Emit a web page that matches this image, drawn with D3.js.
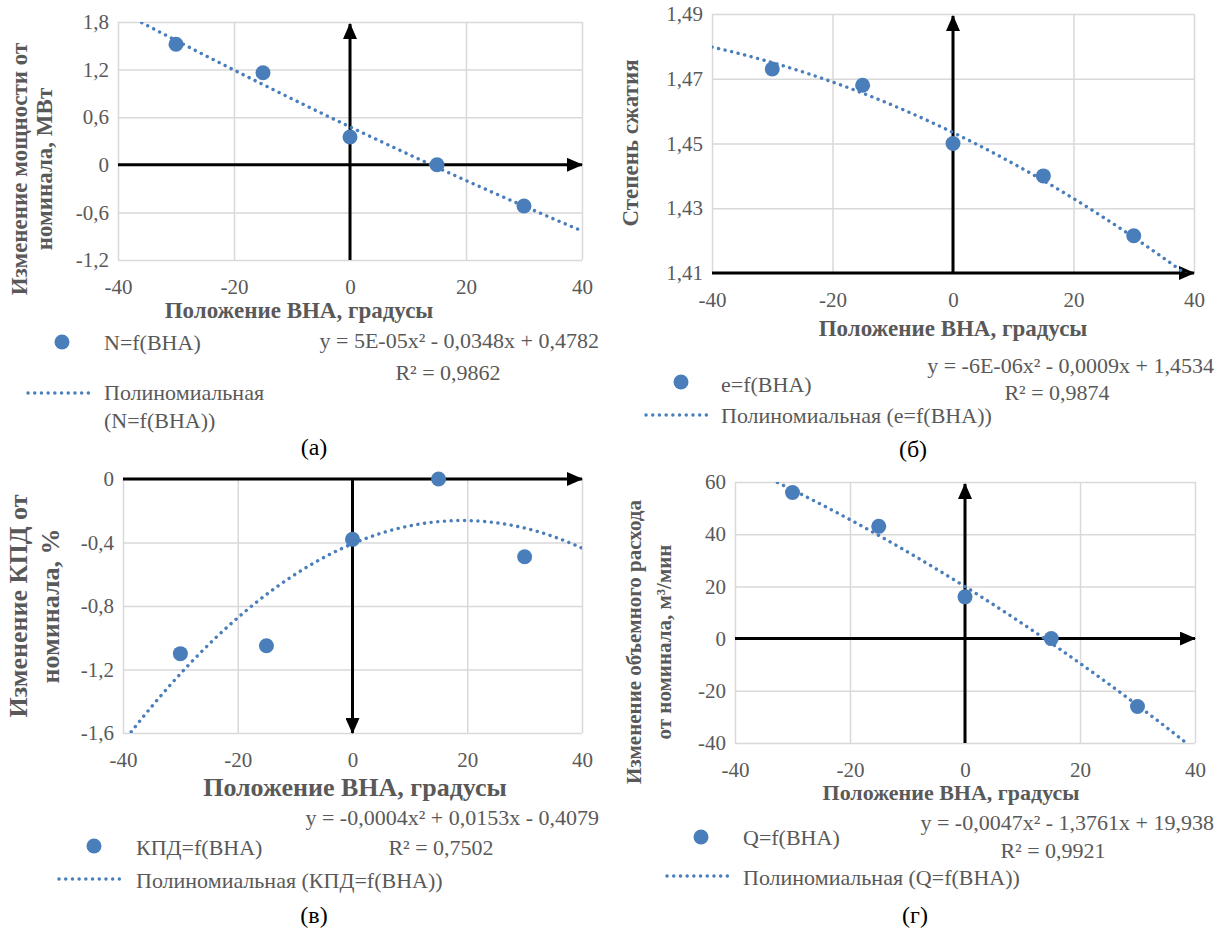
<!DOCTYPE html>
<html lang="ru">
<head>
<meta charset="UTF-8">
<title>Положение ВНА</title>
<script src="https://cdn.jsdelivr.net/npm/d3@7"></script>
<style>
  body { margin: 0; background: #fff; }
</style>
</head>
<body>
<svg width="1223" height="930"></svg>
<script>
// ---- data ----
var vnaAngles = [-30, -15, 0, 15, 30];
var powerValues = [1.52, 1.16, 0.35, 0.0, -0.52];         // (а) N, МВт
var pressureValues = [1.473, 1.468, 1.450, 1.440, 1.4215]; // (б) e
var efficiencyValues = [-1.10, -1.05, -0.38, 0.0, -0.49];  // (в) КПД, %
var flowValues = [56, 43, 16, 0, -26];                     // (г) Q, м3/мин

// polynomial trendline coefficients [a2, a1, a0] as printed on the chart
var powerFit = [5e-5, -0.0348, 0.4782];
var pressureFit = [-6e-6, -0.0009, 1.4534];
var efficiencyFit = [-0.0004, 0.0153, -0.4079];
var flowFit = [-0.0047, -1.3761, 19.938];

var xTicks = [-40, -20, 0, 20, 40];
var powerTicks = [-1.2, -0.6, 0, 0.6, 1.2, 1.8];
var pressureTicks = [1.41, 1.43, 1.45, 1.47, 1.49];
var efficiencyTicks = [-1.6, -1.2, -0.8, -0.4, 0];
var flowTicks = [-40, -20, 0, 20, 40, 60];

var FONT = "'Liberation Serif', 'DejaVu Serif', 'Noto Serif', Tinos, serif";

var ru = d3.formatLocale({ decimal: ",", thousands: " ", grouping: [3], currency: ["", ""], minus: "-" });
var f1 = ru.format(".1f"), f2 = ru.format(".2f"), f0 = ru.format("d");
function zeroPlain(fmt) { return function (d) { return d === 0 ? "0" : fmt(d); }; }

var panels = [
  {
    left: 118, right: 582, top: 22, bottom: 260,
    yTicks: powerTicks, yFormat: zeroPlain(f1), values: powerValues, fit: powerFit,
    hAt: 0, vDir: "up",
    yTitle: ["Изменение мощности от", "номинала, МВт"], yTitleX: [19, 44], yTitleY: 169, yTitleSize: 23,
    xTitleX: 299, xTitleY: 318, xTitleSize: 23,
    series: "N=f(ВНА)", trendName: ["Полиномиальная", "(N=f(ВНА))"],
    markerPos: [62, 342], seriesTextPos: [104, 350],
    lineX: [28, 94], lineY: 393, trendTextPos: [104, 400], lineGap: 28,
    eq: "y = 5E-05x² - 0,0348x + 0,4782", eqRight: 599, eqY: 348,
    r2: "R² = 0,9862", r2X: 448, r2Y: 380,
    caption: "(а)", captionX: 314, captionY: 455
  },
  {
    left: 712, right: 1194, top: 14, bottom: 273,
    yTicks: pressureTicks, yFormat: f2, values: pressureValues, fit: pressureFit,
    hAt: 1.41, vDir: "up",
    yTitle: ["Степень сжатия"], yTitleX: [630], yTitleY: 143, yTitleSize: 23,
    xTitleX: 953, xTitleY: 336, xTitleSize: 23,
    series: "e=f(ВНА)", trendName: ["Полиномиальная (e=f(ВНА))"],
    markerPos: [681, 382], seriesTextPos: [721, 392],
    lineX: [646, 712], lineY: 415, trendTextPos: [721, 423], lineGap: 0,
    eq: "y = -6E-06x² - 0,0009x + 1,4534", eqRight: 1214, eqY: 373,
    r2: "R² = 0,9874", r2X: 1057, r2Y: 400,
    caption: "(б)", captionX: 913, captionY: 457
  },
  {
    left: 123, right: 582, top: 479, bottom: 733,
    yTicks: efficiencyTicks, yFormat: zeroPlain(f1), values: efficiencyValues, fit: efficiencyFit,
    hAt: 0, vDir: "down",
    yTitle: ["Изменение КПД от", "номинала, %"], yTitleX: [18, 50], yTitleY: 606, yTitleSize: 26,
    xTitleX: 355, xTitleY: 796, xTitleSize: 26,
    series: "КПД=f(ВНА)", trendName: ["Полиномиальная (КПД=f(ВНА))"],
    markerPos: [94, 846], seriesTextPos: [136, 855],
    lineX: [59, 124], lineY: 879, trendTextPos: [136, 888], lineGap: 0,
    eq: "y = -0,0004x² + 0,0153x - 0,4079", eqRight: 599, eqY: 825,
    r2: "R² = 0,7502", r2X: 441, r2Y: 855,
    caption: "(в)", captionX: 314, captionY: 923
  },
  {
    left: 735, right: 1195, top: 482, bottom: 743,
    yTicks: flowTicks, yFormat: f0, values: flowValues, fit: flowFit,
    hAt: 0, vDir: "up",
    yTitle: ["Изменение объемного расхода", "от номинала, м³/мин"], yTitleX: [634, 664], yTitleY: 642, yTitleSize: 21,
    xTitleX: 951, xTitleY: 800, xTitleSize: 22,
    series: "Q=f(ВНА)", trendName: ["Полиномиальная (Q=f(ВНА))"],
    markerPos: [701, 837], seriesTextPos: [743, 845],
    lineX: [667, 733], lineY: 876, trendTextPos: [743, 885], lineGap: 0,
    eq: "y = -0,0047x² - 1,3761x + 19,938", eqRight: 1214, eqY: 830,
    r2: "R² = 0,9921", r2X: 1053, r2Y: 858,
    caption: "(г)", captionX: 915, captionY: 923
  }
];

var svg = d3.select("svg").attr("font-family", FONT);
var blue = "#4a7ebb", grey = "#595959", gridCol = "#d9d9d9";

var defs = svg.append("defs");
defs.append("marker")
  .attr("id", "arrow")
  .attr("markerUnits", "userSpaceOnUse")
  .attr("viewBox", "0 0 16 14")
  .attr("markerWidth", 16).attr("markerHeight", 14)
  .attr("refX", 15).attr("refY", 7)
  .attr("orient", "auto")
  .append("path").attr("d", "M0,0 L16,7 L0,14 Z").attr("fill", "#000");

panels.forEach(function (p, i) {
  var x = d3.scaleLinear().domain([-40, 40]).range([p.left, p.right]);
  var y = d3.scaleLinear().domain(d3.extent(p.yTicks)).range([p.bottom, p.top]);
  var g = svg.append("g");

  defs.append("clipPath").attr("id", "clip" + i)
    .append("rect")
    .attr("x", p.left).attr("y", p.top)
    .attr("width", p.right - p.left).attr("height", p.bottom - p.top);

  // axes with gridlines
  var yAxis = g.append("g")
    .attr("transform", "translate(" + p.left + ",0)")
    .call(d3.axisLeft(y).tickValues(p.yTicks).tickFormat(p.yFormat)
      .tickSize(-(p.right - p.left)).tickPadding(9));
  var xAxis = g.append("g")
    .attr("transform", "translate(0," + p.bottom + ")")
    .call(d3.axisBottom(x).tickValues(xTicks).tickFormat(f0)
      .tickSize(-(p.bottom - p.top)).tickPadding(19));
  [xAxis, yAxis].forEach(function (ax) {
    ax.attr("font-family", FONT).attr("font-size", 21);
    ax.select(".domain").remove();
    ax.selectAll("line").attr("stroke", gridCol).attr("stroke-width", 1.5);
    ax.selectAll("text").attr("fill", grey);
  });

  // black arrows
  g.append("line")
    .attr("x1", p.left).attr("x2", p.right)
    .attr("y1", y(p.hAt)).attr("y2", y(p.hAt))
    .attr("stroke", "#000").attr("stroke-width", 3)
    .attr("marker-end", "url(#arrow)");
  g.append("line")
    .attr("x1", x(0)).attr("x2", x(0))
    .attr("y1", p.vDir === "up" ? p.bottom : p.top)
    .attr("y2", p.vDir === "up" ? p.top + 2 : p.bottom)
    .attr("stroke", "#000").attr("stroke-width", 3)
    .attr("marker-end", "url(#arrow)");

  // trendline
  var trendX = d3.range(-40, 40.01, 0.5);
  var poly = function (t) { return p.fit[0] * t * t + p.fit[1] * t + p.fit[2]; };
  g.append("path")
    .datum(trendX)
    .attr("clip-path", "url(#clip" + i + ")")
    .attr("d", d3.line().x(function (t) { return x(t); }).y(function (t) { return y(poly(t)); }))
    .attr("fill", "none").attr("stroke", blue).attr("stroke-width", 3.4)
    .attr("stroke-linecap", "round").attr("stroke-dasharray", "0.1 6.6");

  // points
  g.selectAll("circle.pt")
    .data(vnaAngles.map(function (a, k) { return [a, p.values[k]]; }))
    .enter().append("circle")
    .attr("class", "pt")
    .attr("cx", function (d) { return x(d[0]); })
    .attr("cy", function (d) { return y(d[1]); })
    .attr("r", 7.5).attr("fill", blue);

  // axis titles
  p.yTitle.forEach(function (line, k) {
    g.append("text")
      .attr("transform", "translate(" + p.yTitleX[k] + "," + p.yTitleY + ") rotate(-90)")
      .attr("text-anchor", "middle").attr("dy", "0.35em")
      .attr("font-size", p.yTitleSize).attr("font-weight", "bold").attr("fill", grey)
      .text(line);
  });
  g.append("text")
    .attr("x", p.xTitleX).attr("y", p.xTitleY)
    .attr("text-anchor", "middle")
    .attr("font-size", p.xTitleSize).attr("font-weight", "bold").attr("fill", grey)
    .text("Положение ВНА, градусы");

  // legend
  g.append("circle")
    .attr("cx", p.markerPos[0]).attr("cy", p.markerPos[1]).attr("r", 7.5).attr("fill", blue);
  g.append("text")
    .attr("x", p.seriesTextPos[0]).attr("y", p.seriesTextPos[1])
    .attr("font-size", 22).attr("fill", grey).text(p.series);
  g.append("line")
    .attr("x1", p.lineX[0]).attr("x2", p.lineX[1])
    .attr("y1", p.lineY).attr("y2", p.lineY)
    .attr("stroke", blue).attr("stroke-width", 3.4)
    .attr("stroke-linecap", "round").attr("stroke-dasharray", "0.1 6.6");
  p.trendName.forEach(function (line, k) {
    g.append("text")
      .attr("x", p.trendTextPos[0]).attr("y", p.trendTextPos[1] + k * p.lineGap)
      .attr("font-size", 22).attr("fill", grey).text(line);
  });

  // equation and R²
  g.append("text")
    .attr("x", p.eqRight).attr("y", p.eqY).attr("text-anchor", "end")
    .attr("font-size", 22).attr("fill", grey).text(p.eq);
  g.append("text")
    .attr("x", p.r2X).attr("y", p.r2Y).attr("text-anchor", "middle")
    .attr("font-size", 22).attr("fill", grey).text(p.r2);

  // caption
  g.append("text")
    .attr("x", p.captionX).attr("y", p.captionY).attr("text-anchor", "middle")
    .attr("font-size", 24).attr("fill", "#000").text(p.caption);
});
</script>
</body>
</html>
